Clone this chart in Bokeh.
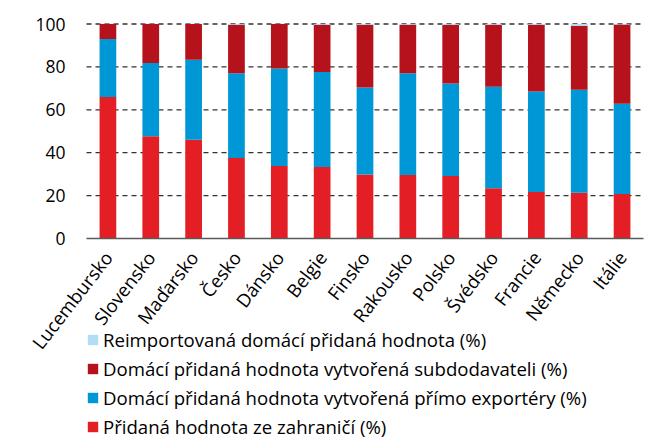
from bokeh.plotting import figure
from bokeh.models import ColumnDataSource, Legend, LegendItem, Range1d, FixedTicker
from bokeh.embed import file_html
from bokeh.resources import INLINE

countries = ["Lucembursko", "Slovensko", "Maďarsko", "Česko", "Dánsko", "Belgie", "Finsko",
             "Rakousko", "Polsko", "Švédsko", "Francie", "Německo", "Itálie"]
foreign = [66.0, 47.7, 46.0, 37.5, 33.8, 33.3, 29.8, 29.6, 29.1, 23.4, 21.7, 21.3, 20.7]
direct = [27.0, 34.1, 37.3, 39.6, 45.5, 44.3, 40.6, 47.4, 43.2, 47.3, 46.8, 48.0, 42.1]
suppliers = [7.0, 18.2, 16.7, 22.6, 20.7, 22.1, 29.3, 22.7, 27.4, 29.0, 31.2, 29.9, 37.0]
reimport = [0.1, 0.1, 0.1, 0.3, 0.1, 0.3, 0.3, 0.3, 0.3, 0.3, 0.3, 0.8, 0.2]

labels = ["Přidaná hodnota ze zahraničí (%)",
          "Domácí přidaná hodnota vytvořená přímo exportéry (%)",
          "Domácí přidaná hodnota vytvořená subdodavateli (%)",
          "Reimportovaná domácí přidaná hodnota (%)"]
colors = ["#e31e24", "#0097d6", "#b5121b", "#b3ddf3"]
keys = ["foreign", "direct", "suppliers", "reimport"]
y_ticks = [0, 20, 40, 60, 80, 100]

n = len(countries)
xpos = list(range(1, n + 1))
source = ColumnDataSource(dict(x=xpos, country=countries, foreign=foreign, direct=direct,
                               suppliers=suppliers, reimport=reimport))

FONT = "Open Sans"

# The frame covers the whole canvas; axes are placed with fixed_location so that
# the rotated labels and the legend below the axis are not clipped.
p = figure(x_range=Range1d(0.5 - 2.007, n + 0.5 + 0.257), y_range=Range1d(-93.7, 110.96),
           width=654, height=439, output_backend="svg", toolbar_location=None,
           min_border_left=0, min_border_right=0, min_border_top=0, min_border_bottom=0)
p.outline_line_color = None
p.background_fill_color = "white"
p.border_fill_color = "white"
p.xgrid.visible = False
p.ygrid.visible = False

# dashed horizontal grid lines across the category span
grid_y = y_ticks[1:]
p.segment(x0=[0.5] * len(grid_y), x1=[n + 0.5] * len(grid_y), y0=grid_y, y1=grid_y,
          line_color="#333333", line_dash="5 4", line_width=1.3)

renderers = p.vbar_stack(keys, x="x", width=0.39, color=colors, source=source, line_color=None)

p.yaxis.fixed_location = 0.5
p.yaxis.bounds = (0, 100)
p.yaxis.ticker = FixedTicker(ticks=y_ticks)
p.yaxis.axis_line_color = None
p.yaxis.major_tick_line_color = None
p.yaxis.minor_tick_line_color = None
p.yaxis.major_tick_out = 0
p.yaxis.major_label_standoff = 21
p.yaxis.major_label_text_font = FONT
p.yaxis.major_label_text_font_size = "17.5px"
p.yaxis.major_label_text_color = "#000000"

p.xaxis.fixed_location = 0
p.xaxis.bounds = (0.5, n + 0.5)
p.xaxis.ticker = FixedTicker(ticks=xpos)
p.xaxis.major_label_overrides = {x: c for x, c in zip(xpos, countries)}
p.xaxis.axis_line_color = "#5a5a5a"
p.xaxis.axis_line_width = 1.5
p.xaxis.major_tick_line_color = None
p.xaxis.minor_tick_line_color = None
p.xaxis.major_tick_out = 0
p.xaxis.major_label_orientation = 0.91
p.xaxis.major_label_standoff = 15
p.xaxis.major_label_text_font = FONT
p.xaxis.major_label_text_font_size = "18.5px"
p.xaxis.major_label_text_color = "#000000"

items = [LegendItem(label=labels[i], renderers=[renderers[i]]) for i in [3, 2, 1, 0]]
legend = Legend(items=items, location=(86, 0), orientation="vertical",
                label_text_font=FONT, label_text_font_size="18.6px", label_text_color="#000000",
                glyph_width=13, glyph_height=13, label_standoff=4, spacing=4,
                padding=0, margin=0, border_line_color=None, background_fill_alpha=0,
                label_height=19)
p.add_layout(legend, "center")

open("out.html", "w").write(file_html(p, INLINE))
